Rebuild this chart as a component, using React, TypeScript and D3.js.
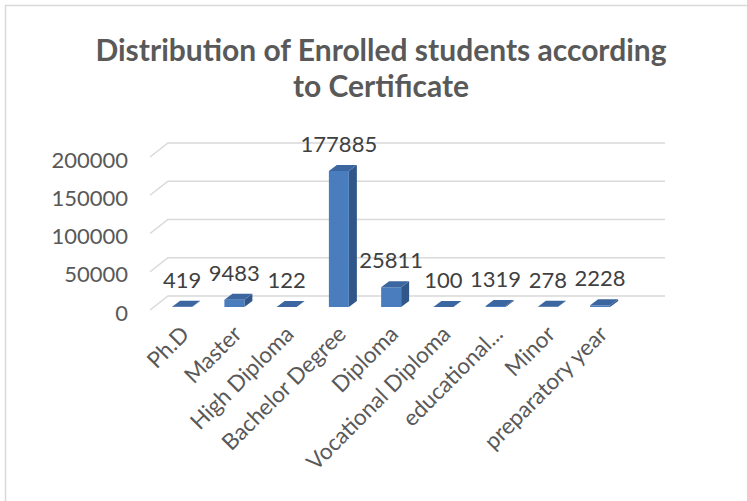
import React from "react";
import * as d3 from "d3";

const categories = [
  "Ph.D",
  "Master",
  "High Diploma",
  "Bachelor Degree",
  "Diploma",
  "Vocational Diploma",
  "educational...",
  "Minor",
  "preparatory year",
];
const values = [419, 9483, 122, 177885, 25811, 100, 1319, 278, 2228];
const yTicks = [0, 50000, 100000, 150000, 200000];
const titleLines = ["Distribution of Enrolled students according", "to Certificate"];

const W = 747;
const H = 501;
const FONT = "Lato, 'Open Sans', sans-serif";

export default function App() {
  // 3D geometry
  const floorFrontY = 310;
  const floorFrontX = 150;
  const depthDx = 18;
  const depthDy = -14;
  const gridRight = 665;
  const barBaseY = 307;
  const barDx = 8;
  const barDy = -6;

  const h = d3.scaleLinear().domain([0, 200000]).range([0, 153]);
  const x = d3.scaleBand<string>().domain(categories).range([156, 626.25]).padding(0);
  const barW = 20;

  return (
    <svg
      width={W}
      height={H}
      style={{ position: "absolute", left: 0, top: 0, background: "#fff" }}
      fontFamily={FONT}
    >
      <rect x={0} y={0} width={W} height={H} fill="#fff" />
      <rect x={5.5} y={5.5} width={900} height={700} fill="none" stroke="#d9d9d9" strokeWidth={1.5} />

      {titleLines.map((t, i) => (
        <text
          key={i}
          x={381}
          y={61 + i * 36}
          textAnchor="middle"
          fontSize={30}
          fontWeight="bold"
          fill="#595959"
        >
          {t}
        </text>
      ))}

      {/* gridlines */}
      {yTicks.map((v) => {
        const yf = floorFrontY - h(v);
        const yb = yf + depthDy;
        return (
          <g key={v}>
            <polyline
              points={`${floorFrontX},${yf} ${floorFrontX + depthDx},${yb} ${gridRight},${yb}`}
              fill="none"
              stroke="#d9d9d9"
              strokeWidth={1.5}
            />
            <text
              x={128}
              y={yf + 2}
              textAnchor="end"
              dominantBaseline="central"
              fontSize={22}
              fill="#595959"
            >
              {v}
            </text>
          </g>
        );
      })}

      {/* bars */}
      {categories.map((c, i) => {
        const cx = (x(c) as number) + x.bandwidth() / 2;
        const x0 = cx - barW / 2;
        const x1 = cx + barW / 2;
        const yTop = barBaseY - h(values[i]);
        const front = `M${x0},${barBaseY}L${x0},${yTop}L${x1},${yTop}L${x1},${barBaseY}Z`;
        const side = `M${x1},${barBaseY}L${x1},${yTop}L${x1 + barDx},${yTop + barDy}L${x1 + barDx},${barBaseY + barDy}Z`;
        const top = `M${x0},${yTop}L${x0 + barDx},${yTop + barDy}L${x1 + barDx},${yTop + barDy}L${x1},${yTop}Z`;
        return (
          <g key={c}>
            <path d={side} fill="#31578a" />
            <path d={front} fill="#4a7dbd" />
            <path d={top} fill="#3b66a0" />
            <text x={cx} y={yTop - 19} textAnchor="middle" fontSize={22} fill="#404040">
              {values[i]}
            </text>
          </g>
        );
      })}

      {/* category labels */}
      {categories.map((c) => {
        const cx = (x(c) as number) + x.bandwidth() / 2;
        const px = cx + 3;
        const py = 330;
        return (
          <text
            key={c}
            x={px}
            y={py}
            dy="0.35em"
            textAnchor="end"
            fontSize={22.5}
            fill="#595959"
            transform={`rotate(-45, ${px}, ${py})`}
          >
            {c}
          </text>
        );
      })}
    </svg>
  );
}
